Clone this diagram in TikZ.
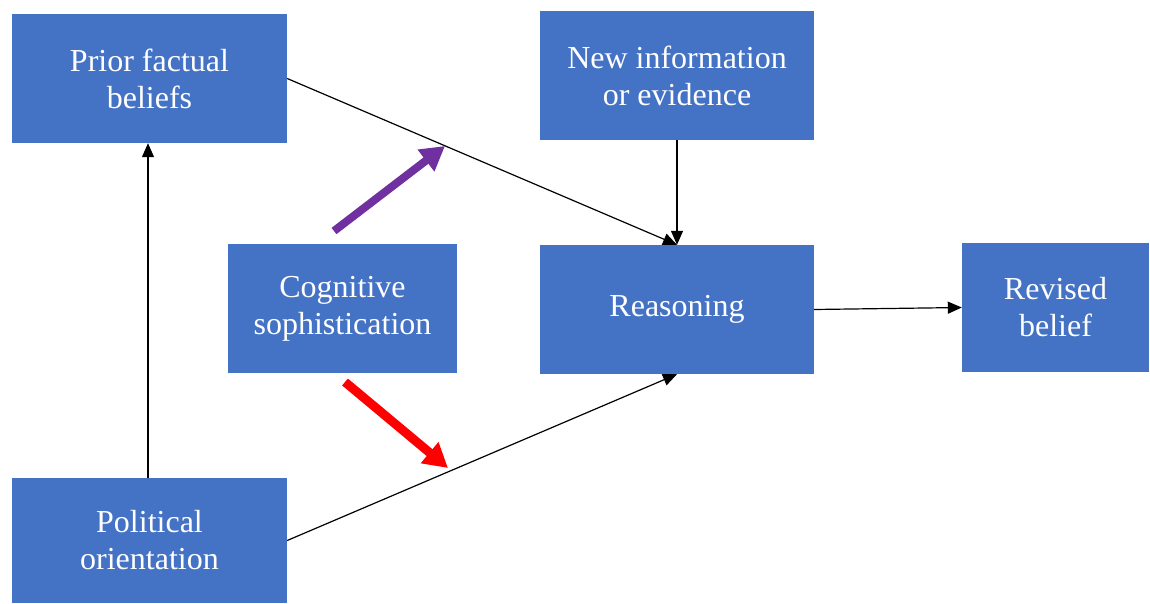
\documentclass[tikz,border=0pt]{standalone}
\usepackage{fontspec}
\setmainfont{Liberation Serif}
\usetikzlibrary{arrows.meta}
\definecolor{boxblue}{HTML}{4472C4}
\definecolor{arrpurple}{HTML}{7030A0}
\definecolor{arrred}{HTML}{FF0000}
\begin{document}
\begin{tikzpicture}[x=1pt,y=-1pt,
  box/.style={fill=boxblue,draw=none,text=white,align=center,inner sep=0pt,
    font=\fontsize{32}{37}\selectfont},
  conn/.style={draw=black,line width=1.2pt,-{Triangle[length=14pt,width=12pt]}},
  bigarrow/.style={line width=8pt,-{Triangle[length=24pt,width=26pt]}}]
\useasboundingbox (0,0) rectangle (1150,604);
\node[box,minimum width=275pt,minimum height=129pt] (prior) at (149.5,78.5) {Prior factual\\beliefs};
\node[box,minimum width=274pt,minimum height=129pt] (new) at (677,75.5) {New information\\or evidence};
\node[box,minimum width=229pt,minimum height=129pt] (cog) at (342.5,308.5) {Cognitive\\sophistication};
\node[box,minimum width=274pt,minimum height=129pt] (reas) at (677,309.5) {Reasoning};
\node[box,minimum width=187pt,minimum height=129pt] (rev) at (1055.5,307.5) {Revised\\belief};
\node[box,minimum width=275pt,minimum height=125pt] (pol) at (149.5,540.5) {Political\\orientation};
\draw[conn] (pol.north -| 148,0) -- (prior.south -| 148,0);
\draw[conn] (prior.east) -- (reas.north);
\draw[conn] (new.south) -- (reas.north);
\draw[conn] (pol.east) -- (reas.south);
\draw[conn] (reas.east) -- (rev.west);
\coordinate (pA) at (334,231);
\coordinate (pB) at (445,146);
\coordinate (rA) at (345,382);
\coordinate (rB) at (448,468);
\draw[bigarrow,arrpurple] (pA) -- (pB);
\draw[bigarrow,arrred,line width=9pt] (rA) -- (rB);
\end{tikzpicture}
\end{document}
